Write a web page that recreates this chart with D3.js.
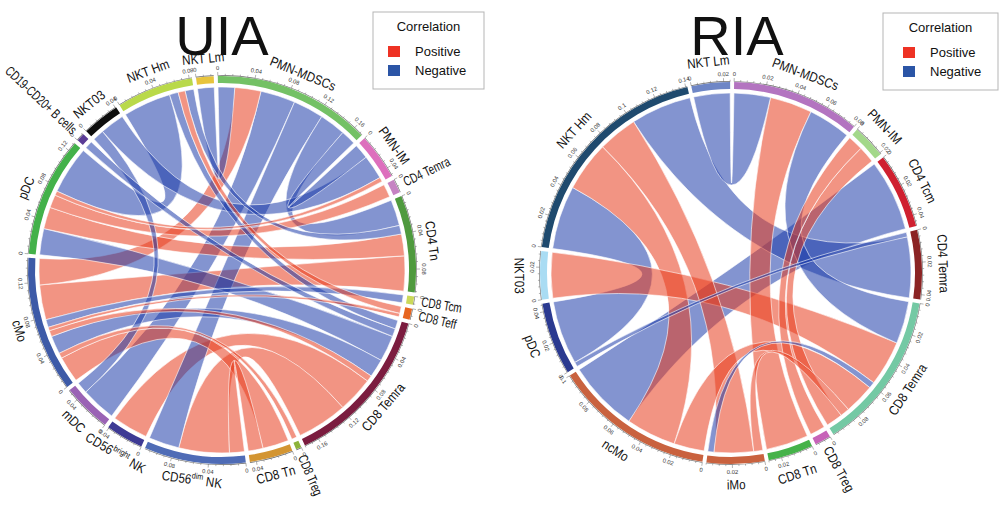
<!DOCTYPE html>
<html><head><meta charset="utf-8">
<script src="https://cdn.jsdelivr.net/npm/d3@7"></script>
<style>body{margin:0;background:#fff}svg{display:block}</style>
</head><body>
<svg id="c" width="1000" height="508"></svg>
<script>
// ---------------- UIA data ----------------
const uiaSectors = ["NKT Lm","PMN-MDSCs","PMN-IM","CD4 Temra","CD4 Tn","CD8 Tcm","CD8 Teff","CD8 Temra","CD8 Treg","CD8 Tn","CD56dim NK","CD56bright NK","mDC","cMo","pDC","CD19-CD20+ B cells","NKT03","NKT Hm"];
const uiaColors = ["#e8c43c","#74c165","#dd6fbd","#c683c3","#4f9a3e","#cbd95a","#e7651f","#7b1c3f","#8db33a","#d39532","#4f6cb6","#3e3a94","#9a63b5","#3d5aa7","#43b14a","#5b3c96","#0d0d0d","#b9d94a"];
const uiaFrom  = ["NKT Lm","PMN-MDSCs","PMN-MDSCs","PMN-MDSCs","PMN-MDSCs","PMN-MDSCs","PMN-IM","PMN-IM","CD4 Temra","CD4 Tn","CD4 Tn","CD4 Tn","CD8 Tcm","CD8 Teff","CD8 Teff","CD8 Temra","CD8 Temra","CD8 Temra","CD8 Temra","CD8 Temra","CD8 Temra","CD8 Treg","CD8 Tn","CD8 Tn","mDC","pDC","NKT Hm"];
const uiaTo    = ["PMN-MDSCs","CD56dim NK","cMo","mDC","CD4 Tn","PMN-IM","NKT03","pDC","pDC","pDC","cMo","NKT Hm","cMo","NKT Hm","cMo","pDC","cMo","CD19-CD20+ B cells","CD56dim NK","CD56bright NK","cMo","cMo","cMo","CD56dim NK","NKT03","NKT Hm","CD8 Temra"];
const uiaValue = [0.019,0.035,0.030,0.040,0.030,0.017,0.028,0.005,0.015,0.025,0.040,0.010,0.009,0.008,0.004,0.030,0.021,0.009,0.058,0.041,0.007,0.006,0.030,0.017,0.013,0.055,0.010];
const uiaSign  = [-1,-1,1,-1,-1,-1,-1,1,1,1,1,-1,-1,1,1,-1,-1,-1,1,1,1,1,1,1,-1,-1,-1];
const uiaOrder = {};
const uiaRadial = ["CD4 Temra","CD8 Tcm","CD8 Teff","CD8 Treg","CD19-CD20+ B cells"];
const uiaTickStep = 0.04;

// ---------------- RIA data ----------------
const riaSectors = ["NKT Lm","PMN-MDSCs","PMN-IM","CD4 Tcm","CD4 Temra","CD8 Temra","CD8 Treg","CD8 Tn","iMo","ncMo","pDC","NKT03","NKT Hm"];
const riaColors = ["#6e86c6","#b374c0","#a3d88a","#cf2030","#8b2424","#74c9a4","#c763b8","#46b24a","#c9623f","#c9623f","#2a3990","#a9dcf3","#1f4a6e"];
const riaFrom  = ["NKT Lm","NKT Hm","NKT Hm","NKT Hm","NKT Hm","NKT03","pDC","ncMo","ncMo","PMN-MDSCs","PMN-MDSCs","PMN-IM","PMN-IM","iMo","iMo"];
const riaTo    = ["PMN-MDSCs","pDC","ncMo","iMo","CD4 Temra","CD8 Temra","CD4 Temra","CD4 Tcm","CD8 Temra","CD8 Tn","CD8 Temra","CD8 Treg","CD8 Temra","CD8 Temra","CD8 Temra"];
const riaValue = [0.024,0.042,0.033,0.026,0.040,0.030,0.003,0.047,0.020,0.028,0.028,0.010,0.011,0.004,0.006];
const riaSign  = [-1,-1,1,1,-1,1,-1,-1,1,1,-1,1,1,-1,1];
const riaOrder = {"PMN-MDSCs":[0,9,10],"PMN-IM":[11,12],"CD4 Temra":[6,4],"CD8 Temra":[10,5,13,8,14,12],"iMo":[14,3,13],"ncMo":[8,2,7],"pDC":[6,1],"NKT Hm":[1,2,3,4]};
const riaRadial = ["CD8 Treg"];
const riaTickStep = 0.02;

const legendItems = ["Positive","Negative"];
const legendColors = ["#ee3224","#2b55a6"];

// ---------------- drawing ----------------
const svg = d3.select("#c");
const FONT = "'Liberation Sans', Arial, Helvetica, sans-serif";
const RED = "rgb(232,60,30)", BLUE = "rgb(30,60,170)";
const rad = d => d*Math.PI/180;
const fmt = v => String(+v.toFixed(3));

function labelText(t, name, size){
  const m = name.match(/^CD56(dim|bright) (NK)$/);
  if (m){
    t.append("tspan").text("CD56");
    t.append("tspan").attr("font-size", size*0.62).attr("dy", -size*0.35).text(m[1]);
    t.append("tspan").attr("dy", size*0.35).text(" NK");
  } else t.text(name);
}

function drawChord(cfg, sectors, colors, from, to, value, sign, order, radial, step, title){
  const g = svg.append("g").attr("transform", `translate(${cfg.cx},${cfg.cy})`);
  const n = sectors.length;
  const tot = new Map(sectors.map(s=>[s,0]));
  value.forEach((v,i)=>{ tot.set(from[i], tot.get(from[i])+v); tot.set(to[i], tot.get(to[i])+v); });
  const total = d3.sum(sectors, s=>tot.get(s));
  const k = (360 - n*cfg.gap)/total;
  const sec = new Map(); let a = cfg.start;
  sectors.forEach((s,j)=>{ const w = tot.get(s)*k; sec.set(s,{start:a,end:a+w,size:tot.get(s),color:colors[j]}); a += w + cfg.gap; });
  const mid = s => (sec.get(s).start+sec.get(s).end)/2;
  const src = [], tgt = [];
  sectors.forEach(s=>{
    let idx = d3.range(value.length).filter(i=>from[i]===s||to[i]===s);
    if (order[s]) idx = order[s];
    else {
      const m = mid(s);
      const key = i => { const p = from[i]===s?to[i]:from[i]; return ((mid(p)-m)%360+360)%360; };
      idx.sort((x,y)=> key(y)-key(x) || x-y);
    }
    let p = sec.get(s).start;
    idx.forEach(i=>{
      const e = {startAngle: rad(p), endAngle: rad(p+value[i]*k)};
      if (from[i]===s) src[i]=e; else tgt[i]=e;
      p += value[i]*k;
    });
  });
  // ribbons
  const ribbon = d3.ribbon().radius(cfg.rRib);
  const idxs = d3.range(value.length).sort((x,y)=>value[y]-value[x]);
  g.append("g").selectAll("path").data(idxs).join("path")
    .attr("d", i=>ribbon({source:src[i], target:tgt[i]}))
    .attr("fill", i=> sign[i]>0 ? RED : BLUE)
    .attr("fill-opacity", 0.55)
    .attr("stroke", "#fff").attr("stroke-width", 0.6);
  // tracks
  const arc = d3.arc().innerRadius(cfg.rIn).outerRadius(cfg.rOut);
  g.append("g").selectAll("path").data(sectors).join("path")
    .attr("d", s=>arc({startAngle:rad(sec.get(s).start), endAngle:rad(sec.get(s).end)}))
    .attr("fill", s=>sec.get(s).color);
  // axes
  const axisArc = d3.arc().innerRadius(cfg.rOut+0.3).outerRadius(cfg.rOut+0.9);
  g.append("g").selectAll("path").data(sectors).join("path")
    .attr("d", s=>axisArc({startAngle:rad(sec.get(s).start), endAngle:rad(sec.get(s).end)}))
    .attr("fill", "#666");
  const ticks = [];
  sectors.forEach(s=>{
    const S = sec.get(s), minor = step/5;
    for (let j=0; j*minor <= S.size+1e-9; j++){
      const v = j*minor;
      ticks.push({ang: S.start + v*k, major: j%5===0, v});
    }
  });
  const tg = g.append("g");
  tg.selectAll("line").data(ticks).join("line")
    .attr("x1", d=>Math.sin(rad(d.ang))*(cfg.rOut+0.5))
    .attr("y1", d=>-Math.cos(rad(d.ang))*(cfg.rOut+0.5))
    .attr("x2", d=>Math.sin(rad(d.ang))*(cfg.rOut+(d.major?4:2.2)))
    .attr("y2", d=>-Math.cos(rad(d.ang))*(cfg.rOut+(d.major?4:2.2)))
    .attr("stroke", "#666").attr("stroke-width", 0.5);
  const tangentRot = ang => { const A = ((ang%360)+360)%360; return (A>90 && A<270) ? A-180 : A; };
  tg.selectAll("text").data(ticks.filter(d=>d.major)).join("text")
    .attr("transform", d=>{ const r = cfg.rOut+8; return `translate(${Math.sin(rad(d.ang))*r},${-Math.cos(rad(d.ang))*r}) rotate(${tangentRot(d.ang)})`; })
    .attr("text-anchor","middle").attr("dominant-baseline","central")
    .attr("font-family", FONT).attr("font-size", 5.8).attr("fill","#333")
    .text(d=>fmt(d.v));
  // sector labels
  const lg = g.append("g").attr("font-family", FONT).attr("font-size", cfg.labelSize).attr("fill","#111");
  sectors.forEach(s=>{
    const ang = mid(s), A = ((ang%360)+360)%360;
    const t = lg.append("text");
    if (radial.includes(s)){
      const r = cfg.rOut + 8;
      const x = Math.sin(rad(A))*r, y = -Math.cos(rad(A))*r;
      if (A < 180) t.attr("transform", `translate(${x},${y}) rotate(${A-90}) scale(${cfg.sxr},1)`).attr("text-anchor","start");
      else t.attr("transform", `translate(${x},${y}) rotate(${A+90}) scale(${cfg.sxr},1)`).attr("text-anchor","end");
      t.attr("dominant-baseline","central");
    } else {
      const r = cfg.rOut + cfg.labelOff;
      const x = Math.sin(rad(A))*r, y = -Math.cos(rad(A))*r;
      t.attr("transform", `translate(${x},${y}) rotate(${tangentRot(A)}) scale(${cfg.sx},1)`)
       .attr("text-anchor","middle").attr("dominant-baseline","central");
    }
    labelText(t, s, cfg.labelSize);
  });
  // title
  svg.append("text").attr("x", cfg.titleX).attr("y", 55).attr("text-anchor","middle")
    .attr("font-family", FONT).attr("font-size", 56).attr("fill","#111").text(title);
  // legend
  const L = svg.append("g").attr("transform", `translate(${cfg.legX},${cfg.legY})`).attr("font-family", FONT);
  L.append("rect").attr("x",0).attr("y",0).attr("width",cfg.legW).attr("height",77)
    .attr("fill","#fff").attr("stroke","#b5b5b5").attr("stroke-width",1);
  L.append("text").attr("x", cfg.legW/2).attr("y", 19).attr("text-anchor","middle").attr("font-size",13).attr("fill","#111").text("Correlation");
  legendItems.forEach((it,j)=>{
    L.append("rect").attr("x", cfg.legSq).attr("y", 34+j*19).attr("width",12).attr("height",11).attr("fill", legendColors[j]);
    L.append("text").attr("x", cfg.legSq+27).attr("y", 44+j*19).attr("font-size",13).attr("fill","#111").text(it);
  });
}

drawChord({cx:222, cy:270, rOut:194, rIn:187, rRib:183, gap:1.2, start:352.3, labelOff:18, labelSize:13.5, sx:0.86, sxr:0.74,
           titleX:222, legX:373, legY:12, legW:111, legSq:15},
  uiaSectors, uiaColors, uiaFrom, uiaTo, uiaValue, uiaSign, uiaOrder, uiaRadial, uiaTickStep, "UIA");
drawChord({cx:731, cy:273, rOut:191, rIn:184, rRib:180, gap:1.2, start:348, labelOff:21, labelSize:13.5, sx:0.86, sxr:0.86,
           titleX:737, legX:883, legY:13, legW:115, legSq:20},
  riaSectors, riaColors, riaFrom, riaTo, riaValue, riaSign, riaOrder, riaRadial, riaTickStep, "RIA");
</script>
</body></html>
